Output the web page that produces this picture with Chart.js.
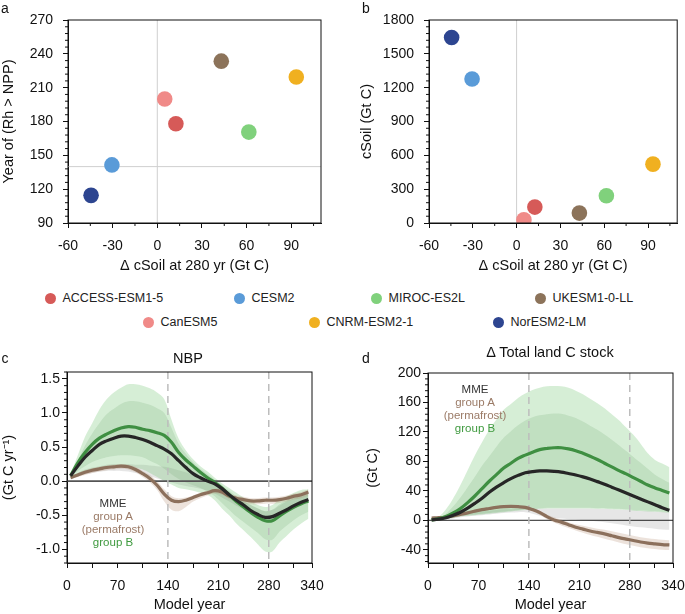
<!DOCTYPE html>
<html>
<head>
<meta charset="utf-8">
<script src="https://cdn.jsdelivr.net/npm/chart.js@4.4.1/dist/chart.umd.min.js"></script>
<style>
  body { margin: 0; background: #fff; font-family: "Liberation Sans", Arial, sans-serif; color: #111; }
  #page { position: relative; width: 685px; height: 614px; overflow: hidden; }
  canvas, .txt { position: absolute; }
  .txt { white-space: nowrap; line-height: 1; transform: translate(-50%, -50%); }
  .leg { position: absolute; font-size: 12.5px; white-space: nowrap; display: flex; align-items: center; transform: translateY(-50%); color: #222; }
  .dot { width: 11px; height: 11px; border-radius: 50%; margin-right: 7px; }
</style>
</head>
<body>
<div id="page">
  <canvas id="ca" width="340" height="278" style="left:0;top:0"></canvas>
  <canvas id="cb" width="345" height="278" style="left:340px;top:0"></canvas>
  <canvas id="cc" width="340" height="274" style="left:0;top:340px"></canvas>
  <canvas id="cd" width="345" height="274" style="left:340px;top:340px"></canvas>
  <div class="txt" style="left:5px;top:8px;font-size:14px">a</div>
  <div class="txt" style="left:366px;top:8px;font-size:14px">b</div>
  <div class="txt" style="left:5px;top:358px;font-size:14px">c</div>
  <div class="txt" style="left:366px;top:358px;font-size:14px">d</div>
  <div class="txt" style="left:188px;top:358px;font-size:14.5px">NBP</div>
  <div class="txt" style="left:550px;top:352px;font-size:14.5px">Δ Total land C stock</div>
  <div class="txt" style="left:113px;top:504px;font-size:11.5px;color:#333">MME</div>
  <div class="txt" style="left:113px;top:517px;font-size:11.5px;color:#9b7b67">group A</div>
  <div class="txt" style="left:113px;top:530px;font-size:11.5px;color:#9b7b67">(permafrost)</div>
  <div class="txt" style="left:113px;top:543px;font-size:11.5px;color:#3f9a3f">group B</div>
  <div class="txt" style="left:475px;top:390px;font-size:11.5px;color:#333">MME</div>
  <div class="txt" style="left:475px;top:403px;font-size:11.5px;color:#9b7b67">group A</div>
  <div class="txt" style="left:475px;top:416px;font-size:11.5px;color:#9b7b67">(permafrost)</div>
  <div class="txt" style="left:475px;top:429px;font-size:11.5px;color:#3f9a3f">group B</div>
</div>
<script>
const FONT = '"Liberation Sans", Arial, sans-serif';

// ---- panels a/b: one value per model ----
const models = ["ACCESS-ESM1-5", "CESM2", "MIROC-ES2L", "UKESM1-0-LL", "CanESM5", "CNRM-ESM2-1", "NorESM2-LM"];
const dSoil280 = [12.5, -30.5, 61.5, 43, 5, 93.4, -44.5];
const yearRhNpp = [178, 141.5, 170.6, 233.5, 200, 219.5, 114.5];
const cSoil = [141, 1277, 242, 88, 29, 522, 1645];
const modelColors = ["#d65a58", "#5a9bd8", "#80d17c", "#8c735a", "#f08a88", "#f0b020", "#2d4590"];

// ---- panels c/d: time series ----
const tYears = [5, 15, 25, 35, 45, 55, 65, 75, 85, 95, 105, 115, 125, 135, 145, 155, 165, 175, 185, 195, 205, 215, 225, 235, 245, 255, 265, 275, 285, 295, 305, 315, 325, 335];

const nbpMme = [0.08, 0.22, 0.35, 0.45, 0.54, 0.59, 0.63, 0.66, 0.66, 0.64, 0.61, 0.57, 0.52, 0.47, 0.40, 0.30, 0.20, 0.11, 0.05, 0.00, -0.04, -0.11, -0.20, -0.28, -0.35, -0.43, -0.49, -0.53, -0.52, -0.47, -0.42, -0.36, -0.31, -0.27];
const nbpB = [0.08, 0.27, 0.42, 0.54, 0.63, 0.69, 0.74, 0.78, 0.80, 0.79, 0.76, 0.74, 0.71, 0.67, 0.57, 0.42, 0.31, 0.22, 0.13, 0.05, -0.02, -0.10, -0.20, -0.30, -0.38, -0.46, -0.53, -0.58, -0.58, -0.51, -0.44, -0.38, -0.33, -0.29];
const nbpA = [0.05, 0.09, 0.13, 0.16, 0.18, 0.20, 0.21, 0.22, 0.21, 0.17, 0.11, 0.04, -0.06, -0.19, -0.28, -0.30, -0.28, -0.24, -0.20, -0.17, -0.14, -0.16, -0.22, -0.25, -0.27, -0.29, -0.29, -0.28, -0.28, -0.27, -0.25, -0.22, -0.20, -0.16];
const nbpBOuterHi = [0.10, 0.38, 0.65, 0.85, 1.05, 1.20, 1.30, 1.37, 1.42, 1.42, 1.40, 1.36, 1.30, 1.20, 0.90, 0.62, 0.45, 0.32, 0.22, 0.14, 0.05, -0.03, -0.10, -0.17, -0.24, -0.30, -0.35, -0.38, -0.35, -0.27, -0.22, -0.17, -0.13, -0.12];
const nbpBOuterLo = [0.04, 0.08, 0.12, 0.16, 0.19, 0.21, 0.22, 0.22, 0.22, 0.20, 0.17, 0.12, 0.06, 0.00, -0.05, -0.10, -0.12, -0.14, -0.17, -0.20, -0.28, -0.40, -0.50, -0.62, -0.72, -0.82, -0.93, -1.03, -1.03, -0.90, -0.80, -0.70, -0.62, -0.55];
const nbpBInnerHi = [0.09, 0.30, 0.52, 0.70, 0.85, 0.98, 1.06, 1.13, 1.17, 1.17, 1.15, 1.12, 1.07, 1.00, 0.78, 0.55, 0.40, 0.28, 0.18, 0.10, 0.02, -0.06, -0.14, -0.22, -0.29, -0.35, -0.40, -0.44, -0.42, -0.34, -0.28, -0.23, -0.19, -0.17];
const nbpBInnerLo = [0.06, 0.15, 0.22, 0.28, 0.32, 0.35, 0.37, 0.38, 0.38, 0.37, 0.35, 0.30, 0.25, 0.18, 0.10, 0.03, -0.02, -0.06, -0.10, -0.15, -0.22, -0.32, -0.42, -0.52, -0.60, -0.68, -0.76, -0.85, -0.86, -0.74, -0.65, -0.57, -0.50, -0.45];
const nbpMmeHi = [0.06, 0.12, 0.17, 0.20, 0.22, 0.24, 0.25, 0.25, 0.25, 0.24, 0.24, 0.23, 0.22, 0.21, 0.19, 0.16, 0.13, 0.09, 0.05, 0.01, -0.04, -0.10, -0.17, -0.24, -0.30, -0.35, -0.40, -0.44, -0.42, -0.36, -0.30, -0.25, -0.21, -0.18];
const nbpMmeLo = [0.04, 0.07, 0.10, 0.12, 0.14, 0.15, 0.15, 0.15, 0.14, 0.12, 0.10, 0.07, 0.04, 0.01, -0.02, -0.05, -0.07, -0.09, -0.11, -0.14, -0.18, -0.24, -0.30, -0.36, -0.42, -0.48, -0.53, -0.57, -0.55, -0.50, -0.45, -0.40, -0.36, -0.32];
const nbpAHi = [0.07, 0.12, 0.16, 0.19, 0.21, 0.23, 0.24, 0.25, 0.24, 0.21, 0.15, 0.09, 0.00, -0.12, -0.22, -0.25, -0.24, -0.21, -0.17, -0.14, -0.11, -0.12, -0.18, -0.21, -0.23, -0.25, -0.25, -0.24, -0.24, -0.23, -0.21, -0.18, -0.16, -0.12];
const nbpALo = [0.03, 0.06, 0.09, 0.12, 0.14, 0.16, 0.17, 0.18, 0.17, 0.13, 0.06, -0.02, -0.13, -0.30, -0.42, -0.44, -0.38, -0.30, -0.25, -0.21, -0.18, -0.20, -0.26, -0.30, -0.32, -0.34, -0.34, -0.33, -0.33, -0.32, -0.30, -0.27, -0.25, -0.21];

const landMme = [0.5, 1.5, 3.5, 7, 11, 16.5, 23, 30, 38, 45, 51, 56.5, 61, 64.5, 66, 67, 67, 66.5, 65.5, 63.5, 61.5, 59, 56, 52.5, 49, 45, 41, 37, 33, 29, 25, 21, 17, 13.5];
const landB = [0.5, 2, 5, 10, 16, 24, 33, 43, 53, 62, 71, 77.5, 84, 88.5, 92.5, 96, 97.5, 98.5, 98.5, 97, 94.5, 91, 87, 82.5, 77.5, 72.5, 67.5, 63, 58, 53, 48, 44, 40.5, 37];
const landA = [3, 3.5, 4.5, 6, 8, 10, 12.5, 14.5, 16, 17.5, 18.5, 19, 18.5, 17.5, 14.5, 10.5, 5, 0.5, -2.5, -6, -9.5, -12, -14.5, -16.5, -18.5, -21, -23.5, -25.5, -27.5, -29.5, -31, -32, -33, -33.5];
const landBOuterHi = [1, 5, 15, 30, 48, 68, 88, 106, 123, 137, 150, 158, 166, 172, 177, 180, 182, 182.5, 182, 180, 176, 171, 165, 159, 152, 144, 136, 126, 116, 104, 91, 82, 77, 72];
const landBOuterLo = [0, 1, 2, 3, 5, 6, 7, 8, 9, 10, 11, 12, 13, 14, 15, 15.5, 16, 16, 16, 16, 16, 16, 16, 15.5, 15.5, 15, 14.5, 14, 13, 12.5, 12, 11.5, 11, 10];
const landBInnerHi = [1, 3, 9, 19, 31, 45, 59, 74, 87, 100, 112, 121, 129, 135.5, 140, 142.5, 144, 145, 144.5, 142, 139, 134, 128.5, 123, 116.5, 109.5, 102, 94, 86, 78, 70, 62, 56, 51];
const landBInnerLo = [0, 1, 2.5, 4, 6, 7, 8, 9, 10, 11, 12, 13, 14, 15, 16, 16.5, 17, 17, 17, 17, 17, 17, 17, 16.5, 16.5, 16, 15.5, 15, 14, 13.5, 13, 12.5, 12, 11];
const landMmeHi = [1, 2, 4, 6, 8, 10, 11, 12, 13, 14, 15, 15, 15.5, 16, 16, 16, 16, 16, 16, 16, 16, 16, 16, 15.5, 15.5, 15, 14.5, 14, 13.5, 13, 12.5, 12, 11.5, 11];
const landMmeLo = [0, 0.5, 1.5, 2.5, 4, 5, 6, 7, 8, 9, 10, 10.5, 11, 11, 9, 6, 4, 3, 2.5, 1.5, 1, 0, -0.5, -1.5, -2.5, -4, -5.5, -7, -8.5, -9.5, -10.5, -11.5, -12.5, -13];
const landAHi = [4, 4.5, 5.5, 7, 9, 11, 13.5, 15.5, 17, 18.5, 19.5, 20, 19.5, 18.5, 16, 12.5, 8, 4, 1, -2.5, -5.5, -7.5, -9.5, -11.5, -13, -15, -17, -19, -21, -23, -24.5, -25.5, -26.5, -27];
const landALo = [2, 2.5, 3.5, 5, 7, 9, 11.5, 13.5, 15, 16.5, 17.5, 18, 17, 15.5, 12, 7.5, 1.5, -3, -7, -10.5, -14, -17, -20, -22.5, -25, -27.5, -30, -32.5, -34.5, -36.5, -38, -39, -40, -40.5];

const scatterXTicks = [-60, -30, 0, 30, 60, 90];
const yearTicks = [90, 120, 150, 180, 210, 240, 270];
const cSoilTicks = [0, 300, 600, 900, 1200, 1500, 1800];
const modelYearTicks = [0, 35, 70, 105, 140, 175, 210, 245, 280, 315, 340];
const nbpTicks = [-1.0, -0.5, 0.0, 0.5, 1.0, 1.5];
const landTicks = [-40, 0, 40, 80, 120, 160, 200];

// legend
const legendPos = [[50, 298], [239, 298], [376, 298], [540, 298], [148, 322], [314, 322], [498, 322]];
models.forEach((m, i) => {
  const d = document.createElement("div");
  d.className = "leg";
  d.style.left = (legendPos[i][0] - 5.5) + "px";
  d.style.top = legendPos[i][1] + "px";
  d.innerHTML = '<span class="dot" style="background:' + modelColors[i] + '"></span>' + m;
  document.getElementById("page").appendChild(d);
});

// ---- plugins ----
const frame = {
  id: "frame",
  afterDraw(chart) {
    const a = chart.chartArea, c = chart.ctx;
    c.save();
    c.strokeStyle = "#111";
    c.lineWidth = 1;
    c.strokeRect(a.left, a.top, a.right - a.left, a.bottom - a.top);
    c.restore();
  }
};

function minorTicks(xStep, yStep) {
  return {
    id: "minorTicks",
    afterDraw(chart) {
      const ctx = chart.ctx, area = chart.chartArea;
      ctx.save();
      ctx.strokeStyle = "#111";
      ctx.lineWidth = 1;
      [["x", xStep], ["y", yStep]].forEach(([id, step]) => {
        if (!step) return;
        const s = chart.scales[id];
        for (let i = Math.ceil(s.min / step - 1e-6); i * step <= s.max + 1e-9; i++) {
          const v = i * step;
          if (s.ticks.some(t => Math.abs(t.value - v) < step / 10)) continue;
          const p = s.getPixelForValue(v);
          ctx.beginPath();
          if (id === "y") { ctx.moveTo(area.left, p); ctx.lineTo(area.left - 3, p); }
          else { ctx.moveTo(p, area.bottom); ctx.lineTo(p, area.bottom + 3); }
          ctx.stroke();
        }
      });
      ctx.restore();
    }
  };
}

function refLines(lines, after) {
  const draw = chart => {
    const ctx = chart.ctx, a = chart.chartArea;
    lines.forEach(l => {
      ctx.save();
      ctx.strokeStyle = l.color;
      ctx.lineWidth = l.width;
      ctx.setLineDash(l.dash || []);
      ctx.beginPath();
      if (l.axis === "x") {
        const p = chart.scales.x.getPixelForValue(l.value);
        ctx.moveTo(p, a.top); ctx.lineTo(p, a.bottom);
      } else {
        const p = chart.scales.y.getPixelForValue(l.value);
        ctx.moveTo(a.left, p); ctx.lineTo(a.right, p);
      }
      ctx.stroke();
      ctx.restore();
    });
  };
  return {
    id: "refLines",
    beforeDatasetsDraw(chart) { if (after === undefined) draw(chart); },
    afterDatasetDraw(chart, args) { if (args.index === after) draw(chart); }
  };
}

function scale(o) {
  return {
    type: "linear",
    min: o.min,
    max: o.max,
    afterBuildTicks: s => { s.ticks = o.ticks.map(v => ({ value: v })); },
    afterFit: s => {
      if (o.width) s.width = o.width;
      if (o.height) s.height = o.height;
      // keep the plot area where the layout padding puts it
      s.paddingLeft = s.paddingRight = s.paddingTop = s.paddingBottom = 0;
    },
    ticks: { color: "#111", font: { family: FONT, size: 14 }, padding: o.pad, autoSkip: false, maxRotation: 0, callback: o.fmt || (v => v) },
    grid: { drawOnChartArea: false, drawTicks: true, tickLength: 5, tickColor: "#111", tickWidth: 1 },
    border: { display: true, color: "#111", width: 1 },
    title: { display: true, text: o.title, color: "#111", font: { family: FONT, size: 14.5 }, padding: { top: 0, bottom: o.titleBottom } }
  };
}

function baseOptions(padding, x, y, extra) {
  return {
    responsive: false,
    animation: false,
    devicePixelRatio: 1,
    events: [],
    layout: { padding },
    plugins: Object.assign({ legend: { display: false }, tooltip: { enabled: false } }, extra || {}),
    scales: { x, y }
  };
}

function scatterChart(id, yValues, padding, yOpts) {
  new Chart(document.getElementById(id), {
    type: "scatter",
    data: {
      datasets: models.map((m, i) => ({
        label: m,
        data: [{ x: dSoil280[i], y: yValues[i] }],
        backgroundColor: modelColors[i],
        borderWidth: 0,
        pointRadius: 7.8
      }))
    },
    options: baseOptions(
      padding,
      scale({ min: -60, max: 110, ticks: scatterXTicks, pad: 10, height: 55, title: "Δ cSoil at 280 yr (Gt C)", titleBottom: 3 }),
      scale(yOpts)
    ),
    plugins: [yOpts.refs, minorTicks(15, yOpts.minor), frame]
  });
}

scatterChart("ca", yearRhNpp, { left: 0, top: 20, right: 19, bottom: 0 }, {
  min: 90, max: 270, ticks: yearTicks, pad: 10, width: 68, title: "Year of (Rh > NPP)", minor: 6,
  refs: refLines([
    { axis: "x", value: 0, color: "#cfcfcf", width: 1 },
    { axis: "y", value: 140, color: "#cfcfcf", width: 1 }
  ])
});
scatterChart("cb", cSoil, { left: 18, top: 20, right: 2, bottom: 0 }, {
  min: 0, max: 1800, ticks: cSoilTicks, pad: 10, width: 71, title: "cSoil (Gt C)", minor: 60,
  refs: refLines([{ axis: "x", value: 0, color: "#cfcfcf", width: 1 }])
});

const pts = arr => tYears.map((t, i) => ({ x: t, y: arr[i] }));
const line = (arr, color) => ({ data: pts(arr), borderColor: color, borderWidth: 3.2, pointRadius: 0, fill: false, tension: 0.35 });
const edge = (arr, bg) => ({
  data: pts(arr), borderColor: "rgba(0,0,0,0)", borderWidth: 0, pointRadius: 0,
  fill: bg ? "+1" : false, backgroundColor: bg || "rgba(0,0,0,0)", tension: 0.35
});

const C_MME = "#262626", C_B = "#3f8f42", C_A = "#8c705c";
const BAND_OUTER = "rgba(120,200,120,0.30)";
const BAND_INNER = "rgba(110,165,110,0.20)";
const BAND_GRAY = "rgba(200,200,200,0.45)";
const BAND_A = "rgba(180,140,110,0.25)";

function seriesChart(id, s, padding, yOpts, zeroColor, zeroWidth) {
  new Chart(document.getElementById(id), {
    type: "line",
    data: {
      datasets: [
        line(s.mme, C_MME),
        line(s.b, C_B),
        line(s.a, C_A),
        edge(s.aHi, BAND_A), edge(s.aLo),
        edge(s.bInHi, BAND_INNER), edge(s.bInLo),
        edge(s.bOutHi, BAND_OUTER), edge(s.bOutLo),
        edge(s.mmeHi, BAND_GRAY), edge(s.mmeLo)
      ]
    },
    options: baseOptions(
      padding,
      scale({
        min: 0, max: 340, ticks: modelYearTicks, pad: 10, height: 51, title: "Model year", titleBottom: 0,
        fmt: v => (v % 70 === 0 || v === 340) ? v : ""
      }),
      scale(yOpts),
      { filler: { propagate: false, drawTime: "beforeDatasetDraw" } }
    ),
    plugins: [
      refLines([
        { axis: "y", value: 0, color: zeroColor, width: zeroWidth },
        { axis: "x", value: 140, color: "#bdbdbd", width: 1.5, dash: [7, 5] },
        { axis: "x", value: 280, color: "#bdbdbd", width: 1.5, dash: [7, 5] }
      ], 3),
      minorTicks(null, yOpts.minor),
      frame
    ]
  });
}

seriesChart("cc", {
  mme: nbpMme, b: nbpB, a: nbpA, aHi: nbpAHi, aLo: nbpALo,
  bInHi: nbpBInnerHi, bInLo: nbpBInnerLo, bOutHi: nbpBOuterHi, bOutLo: nbpBOuterLo,
  mmeHi: nbpMmeHi, mmeLo: nbpMmeLo
}, { left: 0, top: 32, right: 28, bottom: 0 }, {
  min: -1.2, max: 1.6, ticks: nbpTicks, pad: 2, width: 67, title: "(Gt C yr⁻¹)", minor: 0.1,
  fmt: v => v.toFixed(1)
}, "#555", 1.6);

seriesChart("cd", {
  mme: landMme, b: landB, a: landA, aHi: landAHi, aLo: landALo,
  bInHi: landBInnerHi, bInLo: landBInnerLo, bOutHi: landBOuterHi, bOutLo: landBOuterLo,
  mmeHi: landMmeHi, mmeLo: landMmeLo
}, { left: 24, top: 33, right: 12, bottom: 0 }, {
  min: -58, max: 200, ticks: landTicks, pad: 2, width: 64, title: "(Gt C)", minor: 8
}, "#222", 1);
</script>
</body>
</html>
